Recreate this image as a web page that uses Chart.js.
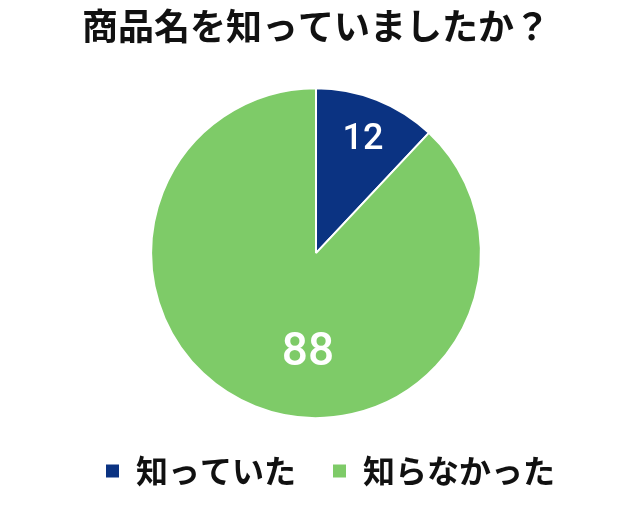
<!DOCTYPE html>
<html lang="ja">
<head>
    <meta charset="UTF-8">
    <title>商品名を知っていましたか？</title>
    <script src="https://cdn.jsdelivr.net/npm/chart.js"></script>
    <style>
        html, body {
            margin: 0;
            padding: 0;
            background: #fff;
        }
        #chartWrap {
            width: 640px;
            height: 510px;
        }
    </style>
</head>
<body>
    <div id="chartWrap">
        <canvas id="awarenessChart" width="640" height="510"></canvas>
    </div>

    <script>
        // Data
        const chartTitle = '商品名を知っていましたか？';
        const categories = ['知っていた', '知らなかった'];
        const values = [12, 88];
        const sliceColors = ['#0b3382', '#7ecb68'];
        // label placement inside each slice: [radius fraction, angle shift in degrees], font size
        const labelPlacement = [[0.74, 1], [0.61, -17]];
        const labelFontSizes = [36, 46];
        // legend sits a bit right of the pie centre in the original
        const legendShift = 14;

        const jpFont = '"Noto Sans CJK JP", "Noto Sans", sans-serif';

        // Draw the value inside each slice
        const sliceLabels = {
            id: 'sliceLabels',
            afterLayout(chart) {
                if (chart.legend) {
                    chart.legend.left += legendShift;
                    chart.legend.right += legendShift;
                }
            },
            afterDatasetsDraw(chart) {
                const ctx = chart.ctx;
                const meta = chart.getDatasetMeta(0);
                ctx.save();
                ctx.fillStyle = '#ffffff';
                ctx.textAlign = 'center';
                ctx.textBaseline = 'middle';
                meta.data.forEach((arc, i) => {
                    const p = arc.getProps(['x', 'y', 'startAngle', 'endAngle', 'outerRadius'], true);
                    const mid = (p.startAngle + p.endAngle) / 2 + labelPlacement[i][1] * Math.PI / 180;
                    const r = p.outerRadius * labelPlacement[i][0];
                    ctx.font = '500 ' + labelFontSizes[i] + 'px Roboto, sans-serif';
                    ctx.fillText(String(values[i]), p.x + Math.cos(mid) * r, p.y + Math.sin(mid) * r);
                });
                ctx.restore();
            }
        };

        const ctx = document.getElementById('awarenessChart').getContext('2d');
        new Chart(ctx, {
            type: 'pie',
            data: {
                labels: categories,
                datasets: [{
                    data: values,
                    backgroundColor: sliceColors,
                    borderColor: '#ffffff',
                    borderWidth: 2
                }]
            },
            options: {
                responsive: false,
                animation: false,
                layout: {
                    padding: { top: 0, bottom: 13, left: 0, right: 8 }
                },
                plugins: {
                    title: {
                        display: true,
                        text: chartTitle,
                        color: '#111111',
                        font: { family: jpFont, size: 36, weight: 'bold' },
                        padding: { top: 5, bottom: 39 }
                    },
                    legend: {
                        position: 'bottom',
                        labels: {
                            color: '#111111',
                            font: { family: jpFont, size: 32, weight: 'bold' },
                            boxWidth: 15,
                            boxHeight: 15,
                            padding: 36
                        }
                    },
                    tooltip: { enabled: false }
                }
            },
            plugins: [sliceLabels]
        });
    </script>
</body>
</html>
